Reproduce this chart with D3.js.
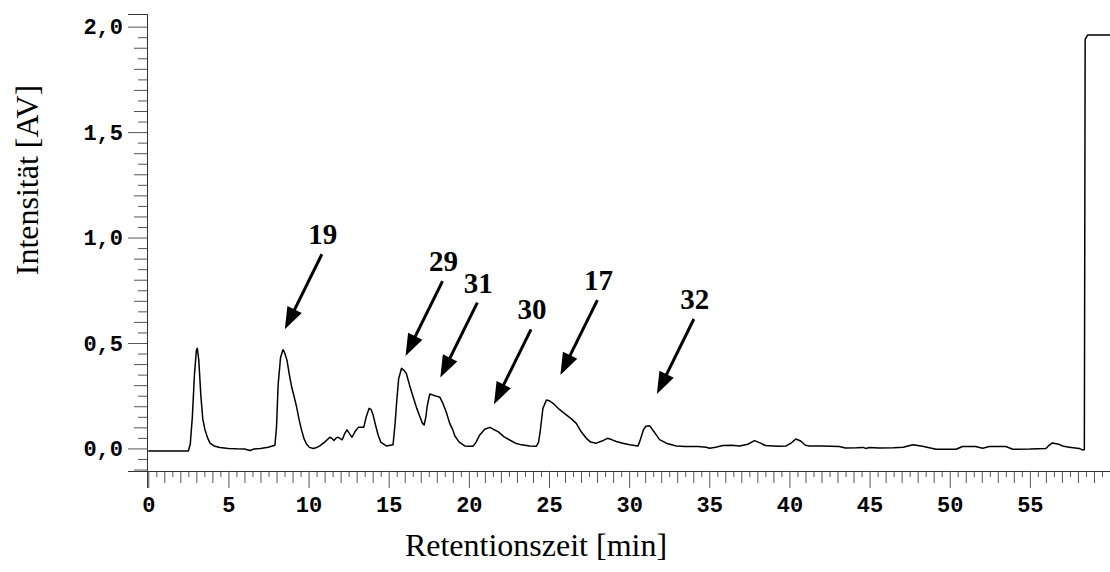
<!DOCTYPE html>
<html>
<head>
<meta charset="utf-8">
<script src="https://cdn.jsdelivr.net/npm/d3@7"></script>
<style>
  body { margin: 0; background: #fff; }
  svg { display: block; }
  .tick text { font-family: "Liberation Mono", monospace; font-weight: bold; font-size: 22px; fill: #000; }
</style>
</head>
<body>
<div id="chart"></div>
<script>
// chromatogram trace
var retTime = [0, 2.5, 2.62, 2.75, 2.88, 3.0, 3.06, 3.15, 3.28, 3.4, 3.53, 3.7, 3.85, 4.1, 4.47, 5.0, 5.5, 6.0, 6.34, 6.6, 7.0, 7.48, 7.9, 8.0, 8.1, 8.25, 8.4, 8.5, 8.65, 8.8, 8.95, 9.1, 9.25, 9.4, 9.56, 9.72, 9.88, 10.05, 10.3, 10.5, 10.7, 11.0, 11.33, 11.45, 11.58, 11.72, 11.85, 12.0, 12.1, 12.25, 12.4, 12.55, 12.71, 12.9, 13.1, 13.3, 13.44, 13.6, 13.78, 13.9, 14.02, 14.18, 14.34, 14.5, 14.85, 15.1, 15.27, 15.4, 15.49, 15.62, 15.8, 15.95, 16.1, 16.3, 16.52, 16.75, 16.94, 17.1, 17.21, 17.32, 17.4, 17.56, 17.7, 17.87, 18.0, 18.19, 18.4, 18.6, 18.8, 19.0, 19.12, 19.4, 19.74, 20.0, 20.26, 20.45, 20.68, 20.99, 21.3, 21.55, 21.82, 22.2, 22.55, 22.9, 23.28, 23.8, 24.21, 24.35, 24.45, 24.62, 24.84, 25.05, 25.25, 25.65, 26.08, 26.4, 26.7, 27.0, 27.33, 27.6, 27.95, 28.3, 28.65, 28.9, 29.2, 29.6, 30.03, 30.55, 30.65, 30.76, 30.9, 31.05, 31.28, 31.45, 31.69, 31.9, 32.32, 32.94, 33.5, 34.3, 34.81, 35.02, 35.4, 35.85, 36.4, 36.9, 37.4, 37.82, 38.2, 38.5, 39.0, 39.4, 39.8, 40.1, 40.4, 40.7, 41.0, 41.25, 42.0, 43.1, 43.5, 44.2, 44.6, 44.75, 45.0, 45.6, 46.5, 47.1, 47.7, 48.3, 49.15, 50.4, 50.8, 51.6, 52.06, 52.47, 53.5, 53.93, 55.0, 56.0, 56.2, 56.4, 56.8, 57.1, 57.46, 58.08, 58.3, 58.4, 58.45, 58.6, 60.0];
var intensity = [-0.012, -0.012, 0.02, 0.15, 0.35, 0.465, 0.475, 0.42, 0.25, 0.14, 0.09, 0.05, 0.025, 0.012, 0.004, 0.0, -0.002, -0.003, -0.01, -0.003, 0.0, 0.006, 0.015, 0.1, 0.3, 0.43, 0.468, 0.455, 0.42, 0.35, 0.29, 0.245, 0.198, 0.14, 0.088, 0.045, 0.02, 0.005, 0.0, 0.004, 0.012, 0.03, 0.053, 0.048, 0.038, 0.05, 0.053, 0.045, 0.041, 0.07, 0.088, 0.07, 0.053, 0.08, 0.1, 0.1, 0.1, 0.15, 0.19, 0.185, 0.16, 0.11, 0.064, 0.03, 0.012, 0.015, 0.017, 0.12, 0.214, 0.33, 0.38, 0.37, 0.355, 0.3, 0.245, 0.19, 0.151, 0.12, 0.111, 0.15, 0.2, 0.258, 0.255, 0.25, 0.247, 0.243, 0.21, 0.17, 0.12, 0.088, 0.06, 0.03, 0.012, 0.01, 0.01, 0.03, 0.064, 0.091, 0.1, 0.09, 0.08, 0.055, 0.04, 0.025, 0.017, 0.012, 0.01, 0.03, 0.08, 0.19, 0.23, 0.225, 0.214, 0.185, 0.159, 0.14, 0.119, 0.08, 0.048, 0.03, 0.025, 0.035, 0.048, 0.042, 0.033, 0.025, 0.017, 0.012, 0.03, 0.057, 0.09, 0.105, 0.107, 0.09, 0.064, 0.042, 0.025, 0.012, 0.009, 0.009, 0.006, 0.001, 0.006, 0.014, 0.015, 0.012, 0.02, 0.037, 0.025, 0.014, 0.012, 0.01, 0.012, 0.025, 0.045, 0.035, 0.015, 0.012, 0.012, 0.009, 0.002, 0.003, 0.005, 0.0, 0.004, 0.002, 0.003, 0.006, 0.017, 0.01, -0.004, -0.004, 0.009, 0.009, 0.001, 0.009, 0.009, -0.004, -0.003, 0.0, 0.015, 0.026, 0.02, 0.01, 0.006, 0.0, -0.008, -0.005, 1.94, 1.96, 1.96];

var xTickValues = [0, 5, 10, 15, 20, 25, 30, 35, 40, 45, 50, 55];
var yTickValues = [0, 0.5, 1.0, 1.5, 2.0];

// peak labels and where their arrows point
var peakLabels = ['19', '29', '31', '30', '17', '32'];
var peakTime = [8.52, 16.05, 18.22, 21.57, 25.71, 31.73];
var peakLevel = [0.565, 0.438, 0.336, 0.209, 0.348, 0.258];

var width = 1110, height = 572;

var svg = d3.select('#chart')
    .append('svg')
    .attr('width', width)
    .attr('height', height);

const xScale = d3.scaleLinear()
    .domain([-0.08, 60])
    .range([147, 1110]);

const yScale = d3.scaleLinear()
    .domain([-0.107, 2.06])
    .range([471, 14]);

const fmt = d => d3.format('.1f')(d).replace('.', ',');

// x axis: minor half-minute ticks, whole-minute ticks, labelled every 5
var xAxisG = svg.append('g').attr('transform', 'translate(0,471)');
xAxisG.append('g')
    .call(d3.axisBottom(xScale).tickValues(d3.range(0.5, 60, 1)).tickSize(6).tickFormat(''));
xAxisG.append('g')
    .call(d3.axisBottom(xScale).tickValues(d3.range(1, 60.1, 1).filter(d => d % 5)).tickSize(12).tickFormat(''));
xAxisG.append('g')
    .call(d3.axisBottom(xScale).tickValues(xTickValues).tickSize(17).tickPadding(8).tickFormat(d3.format('d')));

// y axis
var yAxisG = svg.append('g').attr('transform', 'translate(147,0)');
yAxisG.append('g')
    .call(d3.axisLeft(yScale).tickValues(d3.range(-0.1, 2.05, 0.05).filter(d => Math.abs(d * 10 - Math.round(d * 10)) > 0.1)).tickSize(9).tickFormat(''));
yAxisG.append('g')
    .call(d3.axisLeft(yScale).tickValues(d3.range(-0.1, 2.01, 0.1).filter(d => Math.abs(d * 2 - Math.round(d * 2)) > 0.1)).tickSize(13).tickFormat(''));
yAxisG.append('g')
    .call(d3.axisLeft(yScale).tickValues(yTickValues).tickSize(19).tickPadding(5).tickFormat(fmt));

svg.selectAll('.domain').attr('stroke', '#333');
svg.selectAll('.tick line').attr('stroke', '#555');

// trace
var line = d3.line()
    .x((d, i) => xScale(retTime[i]))
    .y(d => yScale(d));

svg.append('path')
    .datum(intensity)
    .attr('fill', 'none')
    .attr('stroke', '#000')
    .attr('stroke-width', 1.5)
    .attr('stroke-linejoin', 'round')
    .attr('d', line);

// arrows + numbers
var adx = 37, ady = -75;
var alen = Math.sqrt(adx * adx + ady * ady);
var ux = adx / alen, uy = ady / alen;
var headLen = 22, headHalf = 8;

peakLabels.forEach(function(lab, i) {
    var tx = xScale(peakTime[i]), ty = yScale(peakLevel[i]);
    var sx = tx + adx, sy = ty + ady;
    var bx = tx + ux * headLen, by = ty + uy * headLen;
    svg.append('line')
        .attr('x1', sx).attr('y1', sy)
        .attr('x2', bx + ux * -2).attr('y2', by + uy * -2)
        .attr('stroke', '#000')
        .attr('stroke-width', 3);
    svg.append('path')
        .attr('d', 'M' + tx + ',' + ty +
            'L' + (bx - uy * headHalf) + ',' + (by + ux * headHalf) +
            'L' + (bx + uy * headHalf) + ',' + (by - ux * headHalf) + 'Z')
        .attr('fill', '#000');
    svg.append('text')
        .attr('x', sx + 1)
        .attr('y', sy - 10)
        .attr('text-anchor', 'middle')
        .style('font-family', '"Liberation Serif", serif')
        .style('font-weight', 'bold')
        .style('font-size', '29px')
        .text(lab);
});

// axis titles
svg.append('text')
    .attr('x', 536)
    .attr('y', 556)
    .attr('text-anchor', 'middle')
    .style('font-family', '"Liberation Serif", serif')
    .style('font-size', '32px')
    .text('Retentionszeit [min]');

svg.append('text')
    .attr('transform', 'translate(38,180) rotate(-90)')
    .attr('text-anchor', 'middle')
    .style('font-family', '"Liberation Serif", serif')
    .style('font-size', '32px')
    .text('Intensität [AV]');
</script>
</body>
</html>
